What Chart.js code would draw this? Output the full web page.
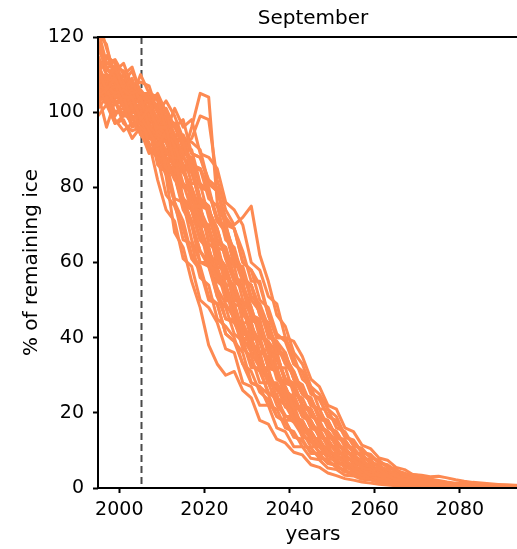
<!DOCTYPE html>
<html>
<head>
<meta charset="utf-8">
<title>September sea ice</title>
<script src="https://cdn.jsdelivr.net/npm/chart.js@4.4.1/dist/chart.umd.min.js"></script>
<style>
  html, body { margin: 0; padding: 0; background: #fff; overflow: hidden; }
  #wrap { position: relative; width: 540px; height: 549px; }
</style>
</head>
<body>
<div id="wrap"><canvas id="c" width="540" height="549"></canvas></div>
<script>
// Sample years shared by every ensemble member (two-year spacing)
const years = [1995,1997,1999,2001,2003,2005,2007,2009,2011,2013,2015,2017,2019,2021,2023,2025,2027,2029,2031,2033,2035,2037,2039,2041,2043,2045,2047,2049,2051,2053,2055,2057,2059,2061,2063,2065,2067,2069,2071,2073,2075,2077,2079,2081,2083,2085,2087,2089,2091,2093,2095];

// September ice remaining (% of reference) for each ensemble member
const member01 = [111,106,109,104,104,98,101,96,96,86,86,75,75,66,65,56,54,44,44,36,37,29,27,21,22,16,15,11,11,7.7,7.6,5.3,4.9,3.3,3.3,2.2,2.2,1.4,1.4,0.9,0.9,0.55,0.5,0.4,0.35,0.25,0.22,0.15,0.12,0.08,0.06];
const member02 = [104,106,102,104,98,99,95,91,95,91,85,86,77,75,64,63,59,50,46,45,36,35,29,28,22,21,16,15,11,10.8,7.9,7.5,5.3,4.9,3.4,3.3,2.3,2.2,1.5,1.4,1.0,0.85,0.6,0.5,0.4,0.32,0.25,0.2,0.15,0.11,0.08];
const member03 = [113,107,105,106,104,98,102,94,92,88,77,75,70,60,56,54,44,44,39,32,32,23,24,21,15,15,11,11,8,7.6,5.2,5.0,3.4,3.3,2.3,2.2,1.5,1.4,1.0,0.8,0.7,0.5,0.4,0.32,0.25,0.2,0.15,0.11,0.08,0.06,0.05];
const member04 = [106,109,108,101,103,99,101,95,93,97,92,84,85,80,71,68,59,59,51,49,43,36,36,29,27,22,21,16,15,11,10.7,7.9,7.4,5.3,4.9,3.4,3.2,2.3,2.1,1.6,1.3,1.1,0.8,0.65,0.5,0.4,0.32,0.25,0.2,0.15,0.11];
const member05 = [112,105,107,107,101,104,96,94,85,83,74,70,60,60,51,45,44,39,32,32,25,25,18,18,15,11,11,7.8,7.5,5.4,5.0,3.4,3.2,2.3,2.2,1.5,1.3,1.1,0.8,0.65,0.5,0.4,0.32,0.25,0.2,0.15,0.11,0.08,0.06,0.05,0.04];
const member06 = [101,104,98,95,97,95,89,92,87,82,85,77,71,69,63,54,54,46,44,36,35,32,25,21,21,16,16,11.2,10.5,7.8,7.5,6.1,4.2,4.0,2.8,2.7,1.8,1.7,1.2,1.0,0.9,0.65,0.5,0.45,0.32,0.25,0.2,0.15,0.11,0.08,0.06];
const member07 = [119,113,114,110,112,105,105,104,95,93,89,81,81,72,65,64,56,55,45,43,37,36,28,27,22,21,16,15,12.5,9.2,9.1,6.5,6.2,4.3,4.0,2.8,2.7,1.9,1.6,1.3,1.1,0.8,0.65,0.5,0.4,0.32,0.25,0.2,0.15,0.11,0.08];
const member08 = [103,104,97,99,99,94,91,92,84,85,76,74,69,59,58,54,45,43,37,36,28,27,24,18,18,13.5,13,9.2,9.1,6.5,6.2,4.2,4.0,2.7,2.7,1.8,1.7,1.2,1.0,0.8,0.65,0.5,0.4,0.32,0.25,0.2,0.15,0.11,0.08,0.06,0.05];
const member09 = [112,108,112,106,105,106,103,97,101,96,98,89,88,82,80,70,69,63,55,55,46,40,40,35,29,27,21,21,16,15,11.2,10.6,8.0,7.4,5.4,4.9,3.4,3.2,2.3,2.1,1.6,1.3,1.0,0.8,0.65,0.5,0.4,0.32,0.25,0.2,0.15];
const member10 = [108,109,109,104,106,97,96,86,84,76,66,65,56,54,45,43,40,33,28,27,25,19,18,13.5,13,9.2,9.2,6.5,6.2,4.3,4.0,2.8,2.7,1.9,1.6,1.3,1.1,0.8,0.65,0.5,0.4,0.32,0.25,0.2,0.15,0.11,0.08,0.06,0.05,0.04,0.03];
const member11 = [121,118,108,108,103,101,104,96,94,84,85,79,71,70,60,58,51,49,40,40,33,31,24,25,19,18,13.5,13,9.3,9.1,6.5,6.3,4.3,4.0,2.8,2.7,1.9,1.7,1.3,1.0,0.8,0.65,0.5,0.4,0.32,0.25,0.2,0.15,0.11,0.08,0.06];
const member12 = [110,115,113,108,111,105,102,105,100,92,93,86,85,79,71,70,61,55,54,48,40,39,36,29,25,24,18,18,13.5,12.8,9.4,9.0,6.6,6.2,4.3,4.0,2.8,2.7,1.9,1.6,1.4,1.0,0.8,0.65,0.5,0.4,0.32,0.25,0.2,0.15,0.11];
const member13 = [108,105,99,103,98,100,91,88,87,77,76,66,60,59,53,45,45,37,35,28,28,22,19,19,13.5,13,9.2,9.1,6.5,6.2,4.3,4.0,2.8,2.7,1.9,1.7,1.3,1.0,0.8,0.65,0.5,0.4,0.32,0.25,0.2,0.15,0.11,0.08,0.06,0.05,0.04];
const member14 = [105,96,103,97,95,96,94,90,95,92,85,86,76,74,69,61,55,54,48,40,39,36,28,27,22,21,16,15,11.2,10.7,8.0,7.4,5.4,4.9,3.4,3.2,2.3,2.1,1.6,1.3,1.0,0.8,0.65,0.5,0.4,0.32,0.25,0.2,0.15,0.11,0.08];
const member15 = [118,111,111,108,102,104,103,93,90,85,77,71,70,61,58,50,49,41,40,33,28,28,24,19,18,13.5,13,9.3,9.1,6.5,6.2,4.3,4.0,2.8,2.7,1.9,1.7,1.3,1.0,0.8,0.65,0.5,0.4,0.32,0.25,0.2,0.15,0.11,0.08,0.06,0.05];
const member16 = [109,106,109,106,109,102,103,102,95,101,96,98,89,88,85,76,74,70,60,58,51,49,40,39,35,29,27,22,21,16,15,11.4,10.5,8.0,7.4,5.5,4.9,3.5,3.2,2.4,2.0,1.6,1.3,1.2,1.0,0.85,0.7,0.55,0.45,0.38,0.3];
const member17 = [108,110,104,105,103,94,92,82,74,71,61,59,50,48,44,37,36,28,27,22,22,16,15,11,11,7.9,7.5,5.3,4.9,3.4,3.2,2.3,2.1,1.5,1.3,1.0,0.8,0.65,0.5,0.4,0.32,0.25,0.2,0.15,0.11,0.08,0.06,0.05,0.04,0.03,0.02];
const member18 = [99,102,97,98,93,96,96,89,90,89,81,79,72,69,63,54,54,48,41,40,32,31,27,22,21,16,15,11.2,10.6,8.0,7.5,5.4,4.9,3.4,3.2,2.3,2.1,1.5,1.3,1.0,0.8,0.65,0.5,0.4,0.32,0.25,0.2,0.15,0.11,0.08,0.06];
const member19 = [111,115,111,113,107,108,107,100,103,99,93,92,90,81,79,72,69,60,58,54,46,40,40,33,31,25,24,19,18,13.5,12.8,9.4,9.0,6.6,6.2,4.3,4.0,2.8,2.7,1.9,1.7,1.3,1.0,0.8,0.65,0.5,0.4,0.32,0.25,0.2,0.15];
const member20 = [107,102,105,102,96,97,90,88,78,75,69,61,58,50,49,41,39,36,28,27,22,21,16,15,11,10.7,7.9,7.5,5.4,4.9,3.4,3.2,2.3,2.1,1.5,1.3,1.0,0.8,0.65,0.5,0.4,0.32,0.25,0.2,0.15,0.11,0.08,0.06,0.05,0.04,0.03];
const member21 = [110,107,104,106,101,99,95,90,83,68,64,55,48,38,33,30,31,26,24,18,17,13,12,9.5,8.8,6.2,5.5,4.0,3.3,2.5,2.1,1.6,1.3,1.0,0.8,0.6,0.5,0.38,0.3,0.22,0.17,0.13,0.1,0.08,0.06,0.05,0.04,0.03,0.02,0.02,0.01];
const member22 = [106,110,105,107,102,104,99,97,94,92,88,96,105,104,76,70,62,58,50,47,41,38,33,30,25,23,19,17,13.5,12.2,9.5,8.6,6.6,5.9,4.4,4.0,3.0,2.6,2.0,1.7,1.3,1.05,0.85,0.65,0.52,0.42,0.33,0.26,0.2,0.16,0.12];
const member23 = [114,112,108,110,104,110,105,104,98,96,91,93,99,98,82,74,70,72,75,62,55,46,43,36,33,27,25,21,19,14,12,9.6,8.4,7.0,6.0,4.8,3.8,3.6,3.4,3.0,3.1,2.7,2.2,1.8,1.5,1.3,1.1,0.95,0.85,0.75,0.65];
const member24 = [109,110,109,103,104,104,98,97,98,89,88,85,75,74,69,61,55,54,48,41,39,32,32,25,24,19,18,13.5,12.8,9.4,9.0,6.6,6.2,4.3,4.0,2.8,2.7,1.9,1.7,1.3,1.0,0.8,0.65,0.5,0.4,0.32,0.25,0.2,0.15,0.11,0.08];
const member25 = [108,102,103,99,101,101,95,96,89,88,76,74,66,64,55,54,48,40,39,36,28,27,22,22,16,15,11,10.7,7.9,7.5,5.4,4.9,3.4,3.2,2.3,2.1,1.5,1.3,1.0,0.8,0.65,0.5,0.4,0.32,0.25,0.2,0.15,0.11,0.08,0.06,0.05];
const member26 = [122,113,112,111,106,102,105,103,98,97,90,90,81,79,72,69,63,55,54,46,43,36,35,31,25,24,19,18,13.5,12.8,9.4,9.0,6.6,6.1,4.3,4.0,2.8,2.7,1.9,1.7,1.3,1.1,0.8,0.65,0.5,0.4,0.32,0.25,0.2,0.15,0.11];
const member27 = [125,117,110,106,103,100,97,94,88,83,76,71,63,60,53,49,45,40,36,32,30,24,22,18,16,13,11,9,7.4,6.0,4.9,3.9,3.1,2.6,2.0,1.7,1.4,1.1,0.85,0.7,0.55,0.42,0.34,0.27,0.21,0.16,0.12,0.09,0.07,0.05,0.04];
const member28 = [115,110,107,110,104,105,100,102,97,87,86,77,75,65,63,58,50,49,41,39,33,32,25,22,21,18,13.5,13,9.3,9.0,6.6,6.2,4.3,4.0,2.8,2.7,1.9,1.6,1.3,1.1,0.8,0.65,0.5,0.4,0.32,0.25,0.2,0.15,0.11,0.08,0.06];
const member29 = [111,108,106,107,102,104,99,99,93,90,84,80,74,69,62,59,52,49,43,39,34,31,26,24,20,17.5,14.8,12.3,10.2,8.7,7.1,6.0,4.7,3.8,3.1,2.6,2.0,1.65,1.3,1.05,0.8,0.66,0.5,0.41,0.32,0.26,0.2,0.15,0.11,0.08,0.06];
const member30 = [107,110,104,106,101,102,97,99,93,93,86,84,77,74,66,63,56,53,46,44,37,35,29,27,22,20.5,16.5,15,11.6,10.3,8.2,7.2,5.6,4.8,3.6,3.1,2.4,2.05,1.55,1.35,0.97,0.82,0.63,0.52,0.39,0.33,0.24,0.2,0.15,0.11,0.08];
const member31 = [110,106,107,102,103,99,99,94,92,85,81,74,70,63,59,51,49,42,40,33,31,26,24,19.5,17.5,14,12.4,9.7,8.8,6.8,6.0,4.5,3.8,2.9,2.6,1.95,1.65,1.25,1.03,0.78,0.67,0.49,0.41,0.31,0.26,0.19,0.15,0.11,0.08,0.06,0.045];
const member32 = [105,107,104,104,100,100,96,97,93,93,89,88,80,79,71,69,60,58,50,48,41,39,33,31,25.5,23.5,19.2,17.5,13.9,12.4,9.6,8.8,6.7,6.0,4.4,3.8,2.9,2.6,1.9,1.65,1.25,1.03,0.77,0.67,0.48,0.41,0.31,0.26,0.19,0.15,0.11];
const member33 = [110,107,104,105,101,101,95,94,87,83,75,70,63,59,51,48,41,39,33,31,25.5,23.5,19.3,17.5,14,12.3,9.6,8.8,6.7,6.0,4.4,3.8,2.9,2.6,1.9,1.65,1.25,1.03,0.77,0.67,0.48,0.41,0.31,0.26,0.19,0.15,0.11,0.08,0.06,0.045,0.035];
const member34 = [104,104,100,100,97,97,93,93,88,86,80,79,70,69,59,58,49,48,40,39,32,31,25,23.5,19,17.5,13.8,12.4,9.5,8.8,6.6,6.0,4.4,3.8,2.85,2.6,1.9,1.65,1.22,1.04,0.76,0.67,0.47,0.41,0.3,0.26,0.19,0.15,0.1,0.08,0.055];
const member35 = [114,111,111,107,107,104,104,100,98,94,88,85,77,75,66,64,56,54,46,44,37,35,29,27.5,22,21,16.3,15,11.5,10.5,8.1,7.4,5.5,4.9,3.5,3.2,2.4,2.1,1.5,1.35,0.95,0.83,0.62,0.52,0.38,0.33,0.24,0.21,0.14,0.11,0.08];
const member36 = [103,105,100,101,97,98,93,92,86,84,77,74,66,63,56,53,46,43,37,35,29,27,22,20.5,16.5,15,11.6,10.3,8.2,7.2,5.6,4.8,3.6,3.1,2.4,2.05,1.55,1.35,0.97,0.83,0.63,0.52,0.39,0.33,0.24,0.21,0.14,0.11,0.08,0.06,0.045];
const member37 = [107,104,106,103,103,99,100,95,96,92,94,89,88,81,79,71,69,60,58,50,48,41,39,33,31,25.5,23.5,19.3,17.5,13.9,12.4,9.6,8.8,6.7,6.0,4.4,3.8,2.9,2.6,1.9,1.65,1.25,1.03,0.77,0.67,0.48,0.41,0.31,0.26,0.19,0.15];
const member38 = [117,112,112,108,108,105,105,100,95,90,84,80,72,69,61,58,51,48,42,39,33,31,26,23.5,19.5,17.5,14,12.4,9.7,8.8,6.8,6.0,4.5,3.8,2.9,2.6,1.95,1.65,1.25,1.04,0.78,0.67,0.49,0.41,0.31,0.26,0.19,0.15,0.1,0.08,0.055];
const member39 = [106,108,104,103,102,97,95,88,84,76,71,62,59,51,49,41,39,33,31,25.5,23.5,19,17.5,13.8,12.4,9.5,8.8,6.6,6.0,4.3,3.8,2.85,2.6,1.9,1.65,1.22,1.04,0.76,0.67,0.47,0.41,0.3,0.26,0.19,0.15,0.1,0.08,0.055,0.045,0.03,0.025];
const member40 = [111,108,110,105,106,102,103,98,99,94,93,86,85,77,75,66,64,56,54,46,44,37,35,29,27.5,22,21,16.3,15,11.5,10.5,8.1,7.4,5.5,4.9,3.5,3.2,2.4,2.1,1.5,1.35,0.95,0.83,0.62,0.52,0.38,0.33,0.24,0.21,0.14,0.11];
const member41 = [107,105,103,102,99,98,95,93,87,84,77,74,66,64,55,53,45,44,36,35,28.5,27.5,21.5,21,16,15.2,11.3,10.5,7.9,7.3,5.4,4.8,3.5,3.1,2.3,2.1,1.5,1.35,0.95,0.83,0.62,0.52,0.38,0.33,0.24,0.21,0.14,0.11,0.075,0.062,0.042];
const member42 = [106,107,103,103,100,99,96,96,92,91,85,84,76,74,66,63,55,53,45,43,36,34,29,26.5,22,20,16.5,14.5,11.5,10,8.1,7,5.5,4.6,3.5,3,2.4,2,1.55,1.3,0.97,0.8,0.62,0.5,0.39,0.32,0.24,0.2,0.14,0.11,0.075];

const members = [member01, member02, member03, member04, member05, member06, member07,
  member08, member09, member10, member11, member12, member13, member14, member15,
  member16, member17, member18, member19, member20, member21, member22, member23,
  member24, member25, member26, member27, member28, member29, member30, member31,
  member32, member33, member34, member35, member36, member37, member38, member39,
  member40, member41, member42];

// Axis ticks and the reference year marker
const xTickYears = [2000, 2020, 2040, 2060, 2080];
const yTickValues = [0, 20, 40, 60, 80, 100, 120];
const referenceYear = 2005;
const panelTitle = 'September';

const FONT = 'DejaVu Sans';
const LINE_COLOR = '#fd8a52';

const datasets = members.map((vals, k) => ({
  label: 'member ' + (k + 1),
  data: years.map((yr, j) => ({ x: yr, y: vals[j] })),
  borderColor: LINE_COLOR,
  borderWidth: 3,
  borderJoinStyle: 'round',
  pointRadius: 0,
  pointHoverRadius: 0,
  fill: false,
  tension: 0
}));

// Dashed marker at the reference year (under the lines) and the axes frame (over them)
const frame = {
  id: 'frame',
  beforeDatasetsDraw(chart) {
    const { ctx, chartArea, scales } = chart;
    const x = Math.round(scales.x.getPixelForValue(referenceYear)) + 0.5;
    ctx.save();
    ctx.strokeStyle = '#4a4a4a';
    ctx.lineWidth = 2;
    ctx.setLineDash([7, 4]);
    ctx.beginPath();
    ctx.moveTo(x, chartArea.top);
    ctx.lineTo(x, chartArea.bottom);
    ctx.stroke();
    ctx.restore();
  },
  afterDraw(chart) {
    const { ctx, chartArea: a } = chart;
    ctx.save();
    ctx.strokeStyle = '#000';
    ctx.lineWidth = 2;
    ctx.beginPath();
    ctx.moveTo(a.left, a.bottom + 1);
    ctx.lineTo(a.left, a.top);
    ctx.lineTo(a.right + 1, a.top);
    ctx.moveTo(a.left - 1, a.bottom);
    ctx.lineTo(a.right + 1, a.bottom);
    ctx.stroke();
    ctx.restore();
  }
};

new Chart(document.getElementById('c'), {
  type: 'line',
  data: { datasets },
  options: {
    responsive: false,
    devicePixelRatio: 1,
    animation: false,
    events: [],
    layout: { padding: { left: 0, right: 12, top: 0, bottom: 0 } },
    plugins: {
      legend: { display: false },
      tooltip: { enabled: false },
      title: {
        display: true,
        text: panelTitle,
        fullSize: false,
        color: '#000',
        font: { family: FONT, size: 20, weight: 'normal', lineHeight: 1.2 },
        padding: { top: 7, bottom: 6 }
      }
    },
    scales: {
      x: {
        type: 'linear',
        min: 1995,
        max: 2096,
        afterFit: (s) => { s.height = 61; },
        afterBuildTicks: (s) => { s.ticks = xTickYears.map(v => ({ value: v })); },
        border: { display: false },
        grid: { display: true, drawOnChartArea: false, drawTicks: true, tickLength: 5, tickWidth: 2, tickColor: '#000' },
        ticks: {
          color: '#000',
          padding: 6,
          maxRotation: 0,
          autoSkip: false,
          font: { family: FONT, size: 19 },
          callback: (v) => String(v)
        },
        title: {
          display: true,
          text: 'years',
          color: '#000',
          font: { family: FONT, size: 20 },
          padding: { top: 0, bottom: 2 }
        }
      },
      y: {
        type: 'linear',
        min: 0,
        max: 120,
        afterFit: (s) => { s.width = 98; },
        afterBuildTicks: (s) => { s.ticks = yTickValues.map(v => ({ value: v })); },
        border: { display: false },
        grid: { display: true, drawOnChartArea: false, drawTicks: true, tickLength: 5, tickWidth: 2, tickColor: '#000' },
        ticks: {
          color: '#000',
          padding: 9,
          font: { family: FONT, size: 19 },
          callback: (v) => String(v)
        },
        title: {
          display: true,
          text: '% of remaining ice',
          color: '#000',
          font: { family: FONT, size: 20 },
          padding: { top: 20, bottom: 0 }
        }
      }
    }
  },
  plugins: [frame]
});
</script>
</body>
</html>
